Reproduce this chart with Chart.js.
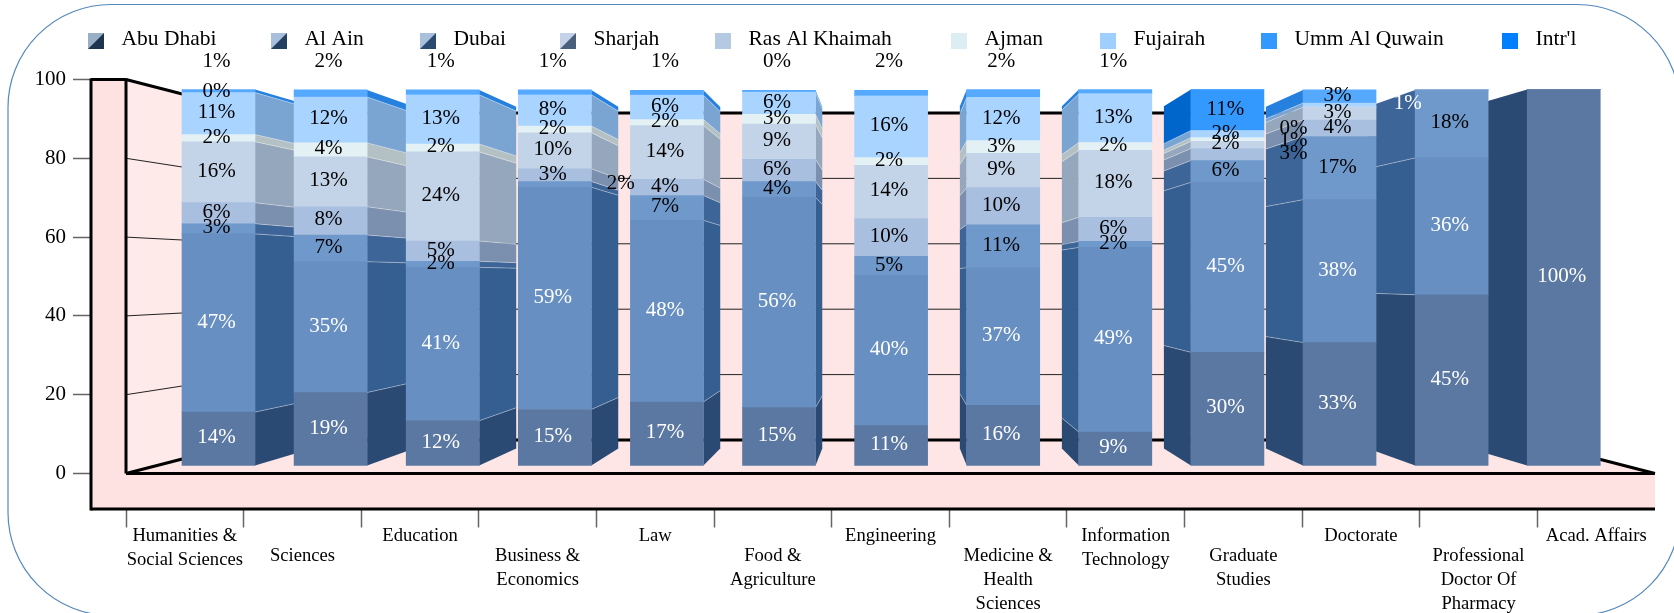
<!DOCTYPE html>
<html><head><meta charset="utf-8">
<style>html,body{margin:0;padding:0;background:#fff}canvas{display:block}</style>
<script src="https://cdn.jsdelivr.net/npm/chart.js@4/dist/chart.umd.min.js"></script>
</head><body><div style="width:1674px;height:613px"><canvas id="c" width="1674" height="613"></canvas></div>
<script>
const categories=[['Humanities &','Social Sciences'],'Sciences','Education',['Business &','Economics'],'Law',['Food &','Agriculture'],'Engineering',['Medicine &','Health','Sciences'],['Information','Technology'],['Graduate','Studies'],'Doctorate',['Professional','Doctor Of','Pharmacy'],'Acad. Affairs'];
const seriesNames=['Abu Dhabi','Al Ain','Dubai','Sharjah','Ras Al Khaimah','Ajman','Fujairah','Umm Al Quwain',"Intr'l"];
const abuDhabi=[14.2,19.4,11.9,14.9,16.9,15.4,10.6,16.0,8.9,30.1,32.7,45.4,100];
const alAin=[47.4,34.8,40.8,59.1,48.3,55.9,39.9,36.6,49.1,45.2,38,36.4,0];
const dubai=[2.7,7.1,1.6,1.5,6.6,4.2,5.1,11.4,1.6,5.8,16.8,18.1,0];
const sharjah=[5.6,7.5,5.4,3.4,4.3,5.9,10.1,9.9,6.4,3.2,4.4,0,0];
const rasAlKhaimah=[16.2,13.3,23.7,9.6,14.3,9.4,14.1,9.1,17.8,1.9,3.4,0,0];
const ajman=[1.9,3.7,2.1,1.8,1.6,2.6,2.1,3.4,2.1,1.0,0,0,0];
const fujairah=[11.2,12.2,13.1,8.3,6.49,5.9,16.4,11.5,13.0,1.9,1.1,0,0];
const ummAlQuwain=[0,0,0,0,0,0,0,0,0,10.9,0,0,0];
const intl=[0.8,1.9,1.3,1.3,1.3,0.49,1.5,2.1,1.1,0,3.49,0,0];
const yTicks=[0,20,40,60,80,100];

const seriesValues=[abuDhabi,alAin,dubai,sharjah,rasAlKhaimah,ajman,fujairah,ummAlQuwain,intl];
const frontColors=['#5b78a2','#678fc2','#6f98cb','#a9bfdf','#c3d4e8','#e3f1f5','#a8d4ff','#3399ff','#55aaff'];
const sideColors=['#2a4a74','#355f91','#3d6598','#7a90ae','#95a7bc','#b3c1c5','#7aa5d3','#0066cc','#2580de'];
const legendFront=['#9aaec6','#a8bedb','#a8c0dc','#c5d3e8','#b5c9e3','#dcedf3','#9fcfff','#3399ff','#0080ff'];
const legendCorner=['#1e3550','#244060','#2b4a70','#4a5f7a',null,null,null,null,null];
const SERIF='"Liberation Serif","Times New Roman",serif';

/* label placement exceptions: series:bar -> [x shift, absolute y] */
const labelMoves={'2:3':[68,null],'5:10':[-44,128],'6:10':[-44,140]};
for(let b=0;b<9;b++) labelMoves['8:'+b]=[0,61];
const shownZero={'7:0':1,'5:10':1};
const hiddenLabels={'3:9':1,'5:9':1};
const extraLabels=[{bar:10,text:'3%',dx:-44,y:153,color:'#000'},{bar:11,text:'1%',dx:-42,y:103,color:'#fff'}];
const legendSlots=[88,271,420,560,715,951,1100,1261,1502];

const WALL_K=0.83,BAR_K=0.91;

const scene={id:'scene',
 beforeDraw(chart){
  const c=chart.ctx;
  const xs=chart.scales.x;
  const items=xs.getLabelItems(chart.chartArea);
  items.forEach((it,i)=>{ if(i%2===1&&!it.moved){it.textOffset+=20;it.moved=true;} });
  c.save();c.strokeStyle='#5588bd';c.lineWidth=1.2;c.beginPath();c.roundRect(8,4.5,1672,611,103);c.stroke();c.restore();
  // legend
  c.save();c.font='21.5px '+SERIF;c.textBaseline='middle';c.textAlign='left';
  seriesNames.forEach((n,i)=>{
    const x=legendSlots[i];
    c.fillStyle=legendFront[i];c.fillRect(x,33,16,16);
    if(legendCorner[i]){c.fillStyle=legendCorner[i];c.beginPath();c.moveTo(x+16,33);c.lineTo(x+16,49);c.lineTo(x,49);c.closePath();c.fill();}
    c.fillStyle='#000';c.fillText(n,x+33.5,39.5);
  });
  c.restore();
 },
 beforeDatasetsDraw(chart){
  const c=chart.ctx,y=chart.scales.y,a=chart.chartArea;
  const cx=(a.left+a.right)/2,cy=(a.top+a.bottom)/2;
  const bx=v=>cx+(v-cx)*WALL_K,by=v=>cy+(v-cy)*WALL_K;
  const L=a.left,R=a.right,T=a.top,B=a.bottom,FL=91,FB=509;
  c.save();
  c.fillStyle='#fde6e5';c.fillRect(bx(L),by(T),bx(R)-bx(L),by(B)-by(T));
  c.fillStyle='#feeae8';c.beginPath();c.moveTo(L,T);c.lineTo(bx(L),by(T));c.lineTo(bx(L),by(B));c.lineTo(L,B);c.closePath();c.fill();
  c.fillStyle='#fde6e5';c.beginPath();c.moveTo(L,B);c.lineTo(R,B);c.lineTo(bx(R),by(B));c.lineTo(bx(L),by(B));c.closePath();c.fill();
  c.fillStyle='#fee2e2';c.fillRect(FL,T,L-FL,FB-T);c.fillRect(FL,B,R-FL,FB-B);
  // gridlines on walls
  c.strokeStyle='#222';c.lineWidth=1;
  yTicks.forEach(t=>{ if(t===0||t===100)return; const p=y.getPixelForValue(t);
    c.beginPath();c.moveTo(L,p);c.lineTo(bx(L),by(p));c.lineTo(bx(R),by(p));c.stroke();});
  c.strokeStyle='#000';c.lineWidth=3;c.lineCap='butt';
  const seg=(a1,b1,a2,b2)=>{c.beginPath();c.moveTo(a1,b1);c.lineTo(a2,b2);c.stroke();};
  seg(L,T,bx(L),by(T));seg(bx(L),by(T),bx(R),by(T));
  seg(L,B,bx(L),by(B));seg(bx(L),by(B),bx(R),by(B));seg(bx(R),by(B),R,B);
  seg(L,T-1,L,B);seg(FL,T-1,FL,FB+1.5);seg(FL,T,L,T);seg(L,B,R,B);seg(FL,FB,R,FB);
  // side faces of the bars
  const kx=v=>cx+(v-cx)*BAR_K,ky=v=>cy+(v-cy)*BAR_K;
  chart.data.datasets.forEach((d,s)=>{
   chart.getDatasetMeta(s).data.forEach((el,b)=>{
    const v=seriesValues[s][b]; if(!v)return;
    const l=el.x-el.width/2,r=el.x+el.width/2,top=el.y,bot=el.base;
    let e=null; if(r<cx)e=r; else if(l>cx)e=l; if(e===null)return;
    c.fillStyle=sideColors[s];c.beginPath();c.moveTo(e,top);c.lineTo(kx(e),ky(top));c.lineTo(kx(e),ky(bot));c.lineTo(e,bot);c.closePath();c.fill();
    if(s>0){c.strokeStyle='rgba(255,255,255,0.35)';c.lineWidth=1;c.beginPath();c.moveTo(e,bot);c.lineTo(kx(e),ky(bot));c.stroke();}
   });
  });
  c.restore();
 },
 afterDatasetsDraw(chart){
  const c=chart.ctx;
  c.save();c.font='21px '+SERIF;c.textAlign='center';c.textBaseline='middle';
  chart.data.datasets.forEach((d,s)=>{
   chart.getDatasetMeta(s).data.forEach((el,b)=>{
    const v=seriesValues[s][b],key=s+':'+b;
    if(hiddenLabels[key]||(!v&&!shownZero[key]))return;
    const m=labelMoves[key]||[0,null];
    const ly=m[1]!==null?m[1]:(el.y+el.base)/2-1;
    c.fillStyle=s<2?'#fff':'#000';
    c.fillText(Math.round(v)+'%',el.x-2+m[0],ly);
   });
  });
  const meta=chart.getDatasetMeta(0).data;
  extraLabels.forEach(e=>{c.fillStyle=e.color;c.fillText(e.text,meta[e.bar].x-2+e.dx,e.y);});
  c.restore();
 }
};

new Chart(document.getElementById('c'),{
 type:'bar',
 data:{labels:categories,datasets:seriesValues.map((vals,s)=>({
   label:seriesNames[s],xAxisID:'xb',yAxisID:'yb',backgroundColor:frontColors[s],borderWidth:0,barThickness:73,
   data:vals.map((v,i)=>({x:i,y:v}))}))},
 plugins:[scene],
 options:{responsive:false,animation:false,
  layout:{padding:{top:79.5,right:19,left:0,bottom:0}},
  plugins:{legend:{display:false},title:{display:false},tooltip:{enabled:false}},
  scales:{
   x:{type:'category',position:'bottom',offset:true,
      grid:{offset:true,drawOnChartArea:false,tickLength:54,tickWidth:1.5,tickColor:ctx=>ctx.tick?'#666':'transparent'},
      border:{display:false},
      ticks:{autoSkip:false,maxRotation:0,minRotation:0,padding:-3,color:'#000',font:{family:SERIF,size:18.6,lineHeight:24/18.6}},
      afterFit(s){s.height=139.5;}},
   y:{type:'linear',position:'left',min:0,max:100,
      afterBuildTicks(s){s.ticks=yTicks.map(v=>({value:v}));},
      grid:{drawOnChartArea:false,tickLength:53,tickWidth:1.5,tickColor:'#666'},
      border:{display:false},
      ticks:{padding:7,color:'#000',font:{family:SERIF,size:21}},
      afterFit(s){s.width=126;}},
   xb:{type:'linear',display:false,stacked:true,offset:false,min:-0.825,max:12.814,grid:{offset:false}},
   yb:{type:'linear',display:false,stacked:true,min:-2.128,max:102.66}
  }}
});
</script></body></html>
